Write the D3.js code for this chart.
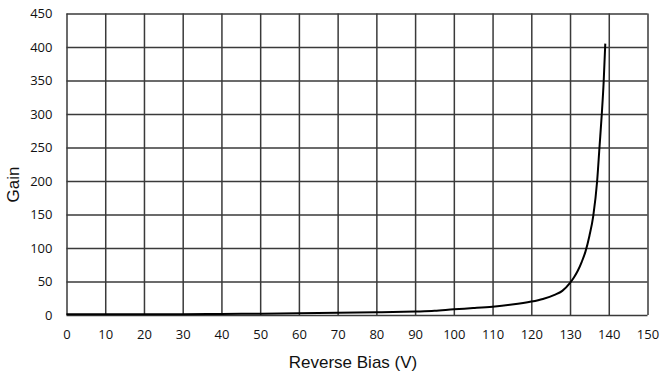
<!DOCTYPE html>
<html><head><meta charset="utf-8">
<script src="https://cdn.jsdelivr.net/npm/d3@7"></script>
<style>
html,body{margin:0;padding:0;background:#fff;}
svg{display:block;}
</style></head>
<body>
<svg id="chart" width="664" height="378"></svg>
<script>
const biasV = [0,10,20,30,40,50,60,70,80,90,95,100,105,110,115,120,123,126,128,130,131,132,133,134,135,136,137,137.6,138.2,138.7,139.1];
const gainVals = [1,1,1,1.2,1.6,2,2.5,3.2,4,5.2,6.2,8.5,10.3,12.4,15.5,20,24,30,36,48,56,66,79,95,118,148,200,250,300,350,405];
const xTicks = [0,10,20,30,40,50,60,70,80,90,100,110,120,130,140,150];
const yTicks = [0,50,100,150,200,250,300,350,400,450];
const xTitle = "Reverse Bias (V)";
const yTitle = "Gain";

const svg = d3.select("#chart");
const m = {left:66.5, right:647.5, top:13.5, bottom:315};
const x = d3.scaleLinear().domain([0,150]).range([m.left,m.right]);
const y = d3.scaleLinear().domain([0,450]).range([m.bottom,m.top]);
const gridColor = "#3a3a3a";

// vertical grid
svg.append("g").attr("transform",`translate(0,${m.bottom})`)
  .call(d3.axisBottom(x).tickValues(xTicks).tickSize(-(m.bottom-m.top)).tickFormat(d=>d).tickPadding(15))
  .call(g=>g.select(".domain").remove())
  .call(g=>g.selectAll("line").attr("stroke",gridColor).attr("stroke-width",1.5))
  .call(g=>g.selectAll("text").attr("font-family","'Open Sans', sans-serif").attr("font-size",13).attr("fill","#111"));

// horizontal grid
svg.append("g").attr("transform",`translate(${m.left},0)`)
  .call(d3.axisLeft(y).tickValues(yTicks).tickSize(-(m.right-m.left)).tickFormat(d=>d).tickPadding(14))
  .call(g=>g.select(".domain").remove())
  .call(g=>g.selectAll("line").attr("stroke",gridColor).attr("stroke-width",1.5))
  .call(g=>g.selectAll("text").attr("font-family","'Open Sans', sans-serif").attr("font-size",13).attr("fill","#111"));

const data = biasV.map((v,i)=>({v, g:gainVals[i]}));
svg.append("path").datum(data)
  .attr("fill","none").attr("stroke","#000").attr("stroke-width",2)
  .attr("d", d3.line().x(d=>x(d.v)).y(d=>y(d.g)).curve(d3.curveMonotoneX));

svg.append("text").attr("x",353).attr("y",368)
  .attr("text-anchor","middle").attr("font-family","'Liberation Sans', Arial, sans-serif")
  .attr("font-size",17).attr("fill","#111").text(xTitle);

svg.append("text").attr("transform","translate(18.5,184.5) rotate(-90)")
  .attr("text-anchor","middle").attr("font-family","'Liberation Sans', Arial, sans-serif")
  .attr("font-size",17).attr("fill","#111").text(yTitle);
</script>
</body></html>
